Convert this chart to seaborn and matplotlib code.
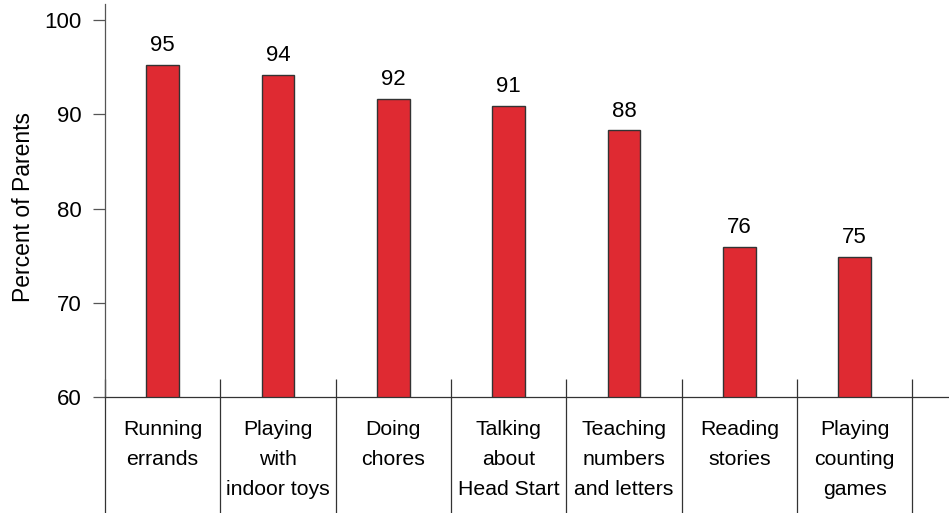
import matplotlib
matplotlib.use("Agg")
import matplotlib.pyplot as plt
import seaborn as sns

# values
categories = ["Running\nerrands", "Playing\nwith\nindoor toys", "Doing\nchores",
              "Talking\nabout\nHead Start", "Teaching\nnumbers\nand letters",
              "Reading\nstories", "Playing\ncounting\ngames"]
percent = [95.2, 94.2, 91.6, 90.9, 88.3, 75.9, 74.9]
value_labels = ["95", "94", "92", "91", "88", "76", "75"]
y_ticks = [60, 70, 80, 90, 100]

sns.set_style("white")
plt.rcParams['font.family'] = ['Liberation Sans', 'DejaVu Sans']

fig = plt.figure(figsize=(9.49, 5.13), dpi=100)
ax = fig.add_axes([0.1106, 0.2255, 0.8894, 0.7667])

sns.barplot(x=categories, y=percent, color="#DF2A32", saturation=1,
            width=0.285, edgecolor="#333333", linewidth=1.0, ax=ax)

for i, lab in enumerate(value_labels):
    ax.annotate(lab, (i, percent[i]), xytext=(0, 10), textcoords="offset points",
                ha="center", va="baseline", fontsize=16, color="black")

ax.set_ylim(60, 101.7)
ax.set_xlim(-0.5, 6.818)
ax.set_yticks(y_ticks)
ax.tick_params(axis="y", length=8.6, width=0.9, color="#555555", pad=8,
               labelsize=16, labelcolor="black", left=True)
ax.tick_params(axis="x", length=0, pad=16, labelsize=15.3, labelcolor="black")
for lab in ax.get_xticklabels():
    lab.set_linespacing(1.75)

ax.set_xlabel("")
ax.set_ylabel("Percent of Parents", fontsize=16.5, color="black")
ax.yaxis.set_label_coords(-0.0823, 0.484)

for side in ["top", "right"]:
    ax.spines[side].set_visible(False)
ax.spines["left"].set_color("#555555")
ax.spines["left"].set_linewidth(0.9)
ax.spines["bottom"].set_color("#333333")
ax.spines["bottom"].set_linewidth(0.9)

# category separators running below the axis
bounds = [i - 0.5 for i in range(len(categories) + 1)]
ax.vlines(bounds, -0.3, 0.0465, transform=ax.get_xaxis_transform(),
          colors="#333333", linewidth=0.9, clip_on=False)

fig.savefig("out.png", dpi=100)
